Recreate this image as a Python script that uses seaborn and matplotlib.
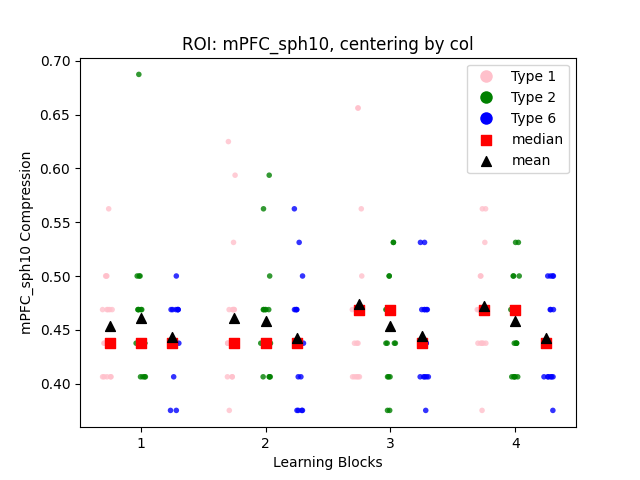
import numpy as np
import pandas as pd
import matplotlib
matplotlib.use("Agg")
import matplotlib.pyplot as plt
import seaborn as sns

blocks = [1, 2, 3, 4]
types = ["Type 1", "Type 2", "Type 6"]
# counts of each compression level, level k means k/32
counts = {
    (1, "Type 1"): {13: 5, 14: 6, 15: 5, 16: 3, 18: 1},
    (1, "Type 2"): {13: 4, 14: 7, 15: 5, 16: 3, 22: 1},
    (1, "Type 6"): {12: 2, 13: 1, 14: 6, 15: 6, 16: 1},
    (2, "Type 1"): {12: 1, 13: 3, 14: 7, 15: 5, 17: 1, 19: 1, 20: 1},
    (2, "Type 2"): {13: 4, 14: 6, 15: 5, 16: 1, 18: 1, 19: 1},
    (2, "Type 6"): {12: 4, 13: 2, 14: 5, 15: 4, 16: 1, 17: 1, 18: 1},
    (3, "Type 1"): {13: 5, 14: 3, 15: 6, 16: 1, 18: 1, 21: 2},
    (3, "Type 2"): {12: 2, 13: 3, 14: 4, 15: 7, 16: 2, 17: 2},
    (3, "Type 6"): {12: 1, 13: 5, 14: 5, 15: 5, 17: 2},
    (4, "Type 1"): {12: 1, 14: 5, 15: 6, 16: 2, 17: 1, 18: 2},
    (4, "Type 2"): {13: 5, 14: 4, 15: 6, 16: 3, 17: 2},
    (4, "Type 6"): {12: 1, 13: 6, 14: 5, 15: 3, 16: 4},
}

rows = []
for (b, t), c in counts.items():
    for k, n in c.items():
        rows += [(b, t, k / 32)] * n
df = pd.DataFrame(rows, columns=["block", "type", "comp"])

palette = {"Type 1": "pink", "Type 2": "green", "Type 6": "blue"}
fig, ax = plt.subplots(figsize=(6.4, 4.8), dpi=100)
sns.stripplot(data=df, x="block", y="comp", hue="type", hue_order=types,
              palette=palette, dodge=True, jitter=0.12, size=4, alpha=0.8, ax=ax)

offs = {"Type 1": -0.25, "Type 2": 0.0, "Type 6": 0.25}
stats = df.groupby(["block", "type"])["comp"].agg(["median", "mean"]).reset_index()
xs = [blocks.index(b) + offs[t] for b, t in zip(stats["block"], stats["type"])]
ax.scatter(xs, stats["median"], marker="s", color="red", s=50, zorder=3, label="median")
ax.scatter(xs, stats["mean"], marker="^", color="black", s=50, zorder=4, label="mean")

h, l = ax.get_legend_handles_labels()
leg = ax.legend(h, l, loc="upper right")
for hd in leg.legend_handles[:3]:
    if hasattr(hd, "set_markersize"):
        hd.set_markersize(9)
    else:
        hd.set_sizes([80])
    hd.set_alpha(1)

ax.set_title("ROI: mPFC_sph10, centering by col")
ax.set_xlabel("Learning Blocks")
ax.set_ylabel("mPFC_sph10 Compression")
fig.savefig("out.png")
